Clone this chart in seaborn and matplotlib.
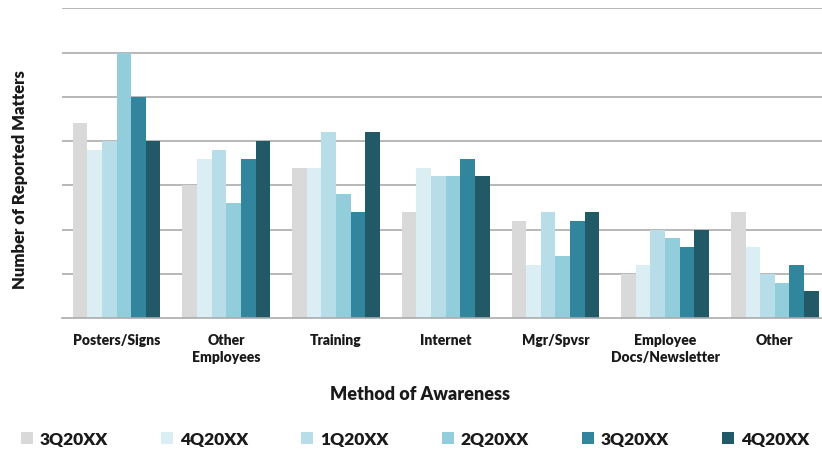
import numpy as np
import pandas as pd
import matplotlib
matplotlib.use("Agg")
import matplotlib.pyplot as plt
from matplotlib.patches import Patch
import seaborn as sns

categories = ["Posters/Signs", "Other\nEmployees", "Training", "Internet",
              "Mgr/Spvsr", "Employee\nDocs/Newsletter", "Other"]
quarters = ["3Q20XX", "4Q20XX", "1Q20XX", "2Q20XX", "3Q20XX ", "4Q20XX "]

q3_prev = [22, 15, 17, 12, 11, 5, 12]
q4_prev = [19, 18, 17, 17, 6, 6, 8]
q1 = [20, 19, 21, 16, 12, 10, 5]
q2 = [30, 13, 14, 16, 7, 9, 4]
q3 = [25, 18, 12, 18, 11, 8, 6]
q4 = [20, 20, 21, 16, 12, 10, 3]

colors = ["#D9D9D9", "#DAEEF3", "#B7DEE8", "#92CDDC", "#31859C", "#215967"]

series = [q3_prev, q4_prev, q1, q2, q3, q4]
df = pd.DataFrame({
    "Method": np.repeat([categories], len(quarters), axis=0).ravel(),
    "Quarter": np.repeat(quarters, len(categories)),
    "Count": np.concatenate(series),
})

sns.set_theme(style="white")
plt.rcParams["font.family"] = ["Lato", "DejaVu Sans"]
plt.rcParams["font.weight"] = "heavy"

fig = plt.figure(figsize=(8.22, 4.56), dpi=100)
ax = fig.add_axes([0.0751, 0.3004, 0.9342, 0.679])

sns.barplot(data=df, x="Method", y="Count", hue="Quarter",
            order=categories, hue_order=quarters,
            palette=colors, width=0.8, saturation=1,
            linewidth=0, errorbar=None, legend=False, ax=ax)

ax.set_ylim(0, 35)
ax.set_xlim(-0.5, len(categories) - 0.5)
ax.set_yticks(np.arange(5, 36, 5))
ax.yaxis.grid(True, color="#ababab", linewidth=1.2)
ax.set_axisbelow(True)
ax.tick_params(axis="y", left=False, labelleft=False)

ax.set_xticks(np.arange(-0.5, len(categories)), minor=True)
ax.tick_params(axis="x", which="major", length=0, pad=11,
               labelsize=10, labelcolor="#1a1a1a")
ax.tick_params(axis="x", which="minor", length=5, width=1, color="#ababab",
               direction="out")
for lbl in ax.get_xticklabels():
    lbl.set_fontweight("heavy")
    lbl.set_linespacing(1.35)

for side in ["left", "right", "top"]:
    ax.spines[side].set_visible(False)
ax.spines["bottom"].set_color("#ababab")
ax.spines["bottom"].set_linewidth(1.2)

ax.set_xlabel("Method of Awareness", fontsize=13, fontweight="heavy",
              color="#1a1a1a")
ax.xaxis.set_label_coords(0.466, -0.215)
ax.set_ylabel("Number of Reported Matters", fontsize=12, fontweight="heavy",
              color="#1a1a1a")
ax.yaxis.set_label_coords(-0.044, 0.45)

handles = [Patch(facecolor=c, edgecolor="none", label=q.strip())
           for c, q in zip(colors, quarters)]
fig.legend(handles=handles, loc="center left", ncol=6,
           bbox_to_anchor=(0.006, 0.035), frameon=False,
           prop={"size": 12.5, "weight": "heavy"},
           handlelength=0.7, handleheight=0.7, handletextpad=0.4,
           columnspacing=3.05, labelcolor="#1a1a1a")

fig.savefig("out.png", dpi=100)
